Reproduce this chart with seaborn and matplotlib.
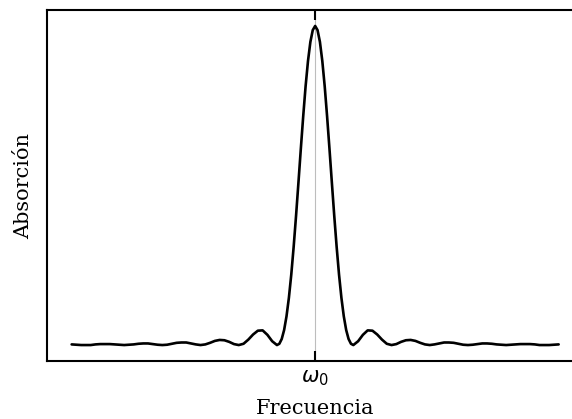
import pandas as pd
import numpy as np
import matplotlib
matplotlib.use('Agg')
import matplotlib.pyplot as plt
import seaborn as sns

# Perfil de absorción (x en unidades del primer cero, y normalizado al pico)
x_izq = [-6.375, -6.25, -6.125, -6.0, -5.875, -5.75, -5.625, -5.5, -5.375, -5.25, -5.125,
         -5.0, -4.875, -4.75, -4.625, -4.5, -4.375, -4.25, -4.125, -4.0, -3.875, -3.75,
         -3.625, -3.5, -3.375, -3.25, -3.125, -3.0, -2.875, -2.75, -2.625, -2.5, -2.375,
         -2.25, -2.125, -2.0, -1.875, -1.75, -1.625, -1.5, -1.375, -1.25, -1.125, -1.0]
y_izq = [0.002, 0.001, 0.000, 0.000, 0.000, 0.002, 0.003, 0.003, 0.003, 0.002, 0.001,
         0.000, 0.001, 0.002, 0.004, 0.005, 0.005, 0.003, 0.001, 0.000, 0.001, 0.004,
         0.007, 0.008, 0.008, 0.005, 0.002, 0.000, 0.002, 0.007, 0.013, 0.016, 0.015,
         0.010, 0.003, 0.000, 0.004, 0.017, 0.033, 0.045, 0.046, 0.032, 0.012, 0.000]

x_centro = [-0.9375, -0.875, -0.8125, -0.75, -0.6875, -0.625, -0.5625, -0.5, -0.4375,
            -0.375, -0.3125, -0.25, -0.1875, -0.125, -0.0625, 0.0, 0.0625, 0.125, 0.1875,
            0.25, 0.3125, 0.375, 0.4375, 0.5, 0.5625, 0.625, 0.6875, 0.75, 0.8125, 0.875,
            0.9375]
y_centro = [0.004, 0.019, 0.047, 0.090, 0.148, 0.221, 0.308, 0.405, 0.509,
            0.615, 0.717, 0.811, 0.890, 0.950, 0.987, 1.000, 0.987, 0.950, 0.890,
            0.811, 0.717, 0.615, 0.509, 0.405, 0.308, 0.221, 0.148, 0.090, 0.047, 0.019,
            0.004]

x_der = [1.0, 1.125, 1.25, 1.375, 1.5, 1.625, 1.75, 1.875, 2.0, 2.125, 2.25, 2.375,
         2.5, 2.625, 2.75, 2.875, 3.0, 3.125, 3.25, 3.375, 3.5, 3.625, 3.75, 3.875,
         4.0, 4.125, 4.25, 4.375, 4.5, 4.625, 4.75, 4.875, 5.0, 5.125, 5.25, 5.375,
         5.5, 5.625, 5.75, 5.875, 6.0, 6.125, 6.25, 6.375]
y_der = [0.000, 0.012, 0.032, 0.046, 0.045, 0.033, 0.017, 0.004, 0.000, 0.003, 0.010, 0.015,
         0.016, 0.013, 0.007, 0.002, 0.000, 0.002, 0.005, 0.008, 0.008, 0.007, 0.004, 0.001,
         0.000, 0.001, 0.003, 0.005, 0.005, 0.004, 0.002, 0.001, 0.000, 0.001, 0.002, 0.003,
         0.003, 0.003, 0.002, 0.000, 0.000, 0.000, 0.001, 0.002]

tick_pos = [0.0]
tick_lab = [r'$\omega_0$']

df = pd.DataFrame({'frec': x_izq + x_centro + x_der,
                   'abs': y_izq + y_centro + y_der})

sns.set_style('ticks')
plt.rcParams['axes.linewidth'] = 1.5
plt.rcParams['text.color'] = 'black'
plt.rcParams['axes.labelcolor'] = 'black'
plt.rcParams['xtick.color'] = 'black'

fig = plt.figure(figsize=(5.72, 4.19), dpi=100)
ax = fig.add_axes([47 / 572, 58 / 419, 536.3 / 572, 351 / 419])

ax.axvline(0, color='#bdbdbd', lw=0.8, zorder=0)
sns.lineplot(data=df, x='frec', y='abs', color='black', lw=1.9, ax=ax)

ax.set_xlim(-7.02, 7.02)
ax.set_ylim(-0.05, 1.05)
ax.set_xticks(tick_pos)
ax.set_xticklabels(tick_lab)
ax.set_yticks([])
ax.tick_params(axis='x', direction='in', top=True, length=7, width=1.5,
               labelsize=15, pad=5, labelcolor='black')
for s in ax.spines.values():
    s.set_color('black')

ax.set_xlabel('Frecuencia', fontfamily='DejaVu Serif', fontsize=15, labelpad=8)
ax.set_ylabel('Absorción', fontfamily='DejaVu Serif', fontsize=15, labelpad=10)

fig.savefig('out.png', dpi=100)
